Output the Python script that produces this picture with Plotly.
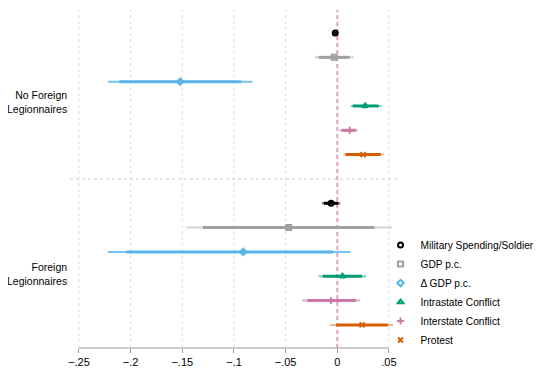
import plotly.graph_objects as go

series = ["Military Spending/Soldier", "GDP p.c.", "Δ GDP p.c.",
          "Intrastate Conflict", "Interstate Conflict", "Protest"]
groups = ["No Foreign<br>Legionnaires", "Foreign<br>Legionnaires"]

# point estimates per group (No Foreign, Foreign)
est = {
    "Military Spending/Soldier": [-0.002, -0.006],
    "GDP p.c.": [-0.003, -0.047],
    "Δ GDP p.c.": [-0.152, -0.091],
    "Intrastate Conflict": [0.027, 0.005],
    "Interstate Conflict": [0.012, -0.006],
    "Protest": [0.025, 0.024],
}
# outer (95%) CIs
ci_outer = {
    "Military Spending/Soldier": [(-0.004, 0.001), (-0.015, 0.003)],
    "GDP p.c.": [(-0.022, 0.016), (-0.146, 0.053)],
    "Δ GDP p.c.": [(-0.222, -0.082), (-0.222, 0.013)],
    "Intrastate Conflict": [(0.013, 0.043), (-0.018, 0.028)],
    "Interstate Conflict": [(0.002, 0.020), (-0.034, 0.022)],
    "Protest": [(0.006, 0.045), (-0.007, 0.054)],
}
# inner (90%) CIs
ci_inner = {
    "Military Spending/Soldier": [(-0.003, 0.000), (-0.013, 0.001)],
    "GDP p.c.": [(-0.018, 0.012), (-0.130, 0.036)],
    "Δ GDP p.c.": [(-0.211, -0.093), (-0.204, -0.004)],
    "Intrastate Conflict": [(0.015, 0.040), (-0.014, 0.024)],
    "Interstate Conflict": [(0.004, 0.018), (-0.029, 0.018)],
    "Protest": [(0.008, 0.042), (-0.001, 0.049)],
}
tick_vals = [-0.25, -0.2, -0.15, -0.1, -0.05, 0, 0.05]
tick_text = ["−.25", "−.2", "−.15", "−.1", "−.05", "0", ".05"]

colors = {
    "Military Spending/Soldier": ("#000000", "rgba(0,0,0,0.55)"),
    "GDP p.c.": ("#a0a0a0", "rgba(160,160,160,0.45)"),
    "Δ GDP p.c.": ("#56B4E9", "rgba(86,180,233,0.8)"),
    "Intrastate Conflict": ("#009E73", "rgba(0,158,115,0.5)"),
    "Interstate Conflict": ("#CC79A7", "rgba(204,121,167,0.6)"),
    "Protest": ("#D55E00", "rgba(230,120,40,0.55)"),
}
symbols = {
    "Military Spending/Soldier": "circle-open",
    "GDP p.c.": "square-open",
    "Δ GDP p.c.": "diamond-open",
    "Intrastate Conflict": "triangle-up-open",
    "Interstate Conflict": "cross-thin-open",
    "Protest": "x-thin-open",
}

def row(g, i):
    return g * 7 + i

fig = go.Figure()
for i, s in enumerate(series):
    xs, ys = [], []
    for g in range(2):
        lo, hi = ci_outer[s][g]
        xs += [lo, hi, None]
        ys += [row(g, i), row(g, i), None]
    fig.add_trace(go.Scatter(x=xs, y=ys, mode="lines", showlegend=False,
                             line=dict(color=colors[s][1], width=2), hoverinfo="skip"))
    xs, ys = [], []
    for g in range(2):
        lo, hi = ci_inner[s][g]
        xs += [lo, hi, None]
        ys += [row(g, i), row(g, i), None]
    fig.add_trace(go.Scatter(x=xs, y=ys, mode="lines", showlegend=False,
                             line=dict(color=colors[s][0], width=3), hoverinfo="skip"))

for i, s in enumerate(series):
    fig.add_trace(go.Scatter(
        x=est[s], y=[row(0, i), row(1, i)], mode="markers", name=s,
        marker=dict(symbol=symbols[s], size=5, color=colors[s][0],
                    line=dict(color=colors[s][0], width=2))))

# gridlines
for v in tick_vals:
    if v == 0:
        continue
    fig.add_shape(type="line", xref="x", yref="paper", x0=v, x1=v, y0=0, y1=1,
                  line=dict(color="#dedede", width=1, dash="dot"), layer="below")
# zero line
fig.add_shape(type="line", xref="x", yref="paper", x0=0, x1=0, y0=0, y1=1,
              line=dict(color="#dba3c6", width=2, dash="4px,3px"), layer="below")
# separator
fig.add_shape(type="line", xref="paper", yref="y", x0=0, x1=1, y0=6, y1=6,
              line=dict(color="#cccccc", width=1, dash="dot"), layer="below")
# axis line spanning tick range
fig.add_shape(type="line", xref="x", yref="paper", x0=tick_vals[0], x1=tick_vals[-1],
              y0=0, y1=0, line=dict(color="#999999", width=1))

for g, lab in enumerate(groups):
    fig.add_annotation(text=lab, xref="paper", yref="y", x=0, y=[2.85, 9.9][g],
                       xanchor="right", yanchor="middle", xshift=-1, showarrow=False,
                       align="right", font=dict(size=10.5, color="#000"))

# page body has an 8px margin, so the figure is 8px smaller and margins shifted
fig.update_layout(
    width=537, height=364,
    margin=dict(l=62, r=145, t=2, b=24, autoexpand=False),
    plot_bgcolor="white", paper_bgcolor="white",
    font=dict(family="Liberation Sans, Arial, sans-serif", size=11, color="#000"),
    xaxis=dict(range=[-0.2587, 0.0607], tickvals=tick_vals, ticktext=tick_text,
               showgrid=False, zeroline=False, showline=False,
               ticks="outside", ticklen=4, tickcolor="#999999",
               tickfont=dict(size=11)),
    yaxis=dict(range=[12.95, -0.945], showgrid=False, zeroline=False,
               showticklabels=False, showline=False),
    legend=dict(x=0.941, y=0.164, xanchor="left", yanchor="middle",
                font=dict(size=10.2), tracegroupgap=0, itemwidth=30,
                bgcolor="rgba(0,0,0,0)"),
)

fig.write_html("out.html")
